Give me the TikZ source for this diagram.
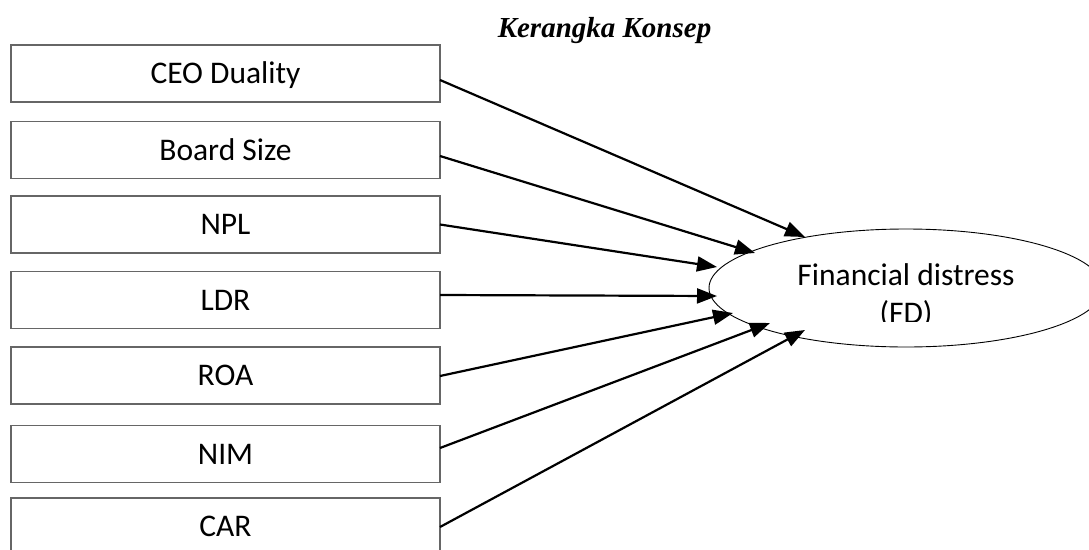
\documentclass[tikz,border=0pt]{standalone}
\usepackage{fontspec}
\setmainfont{Carlito}
\newfontfamily\titlefont{Liberation Serif}
\usetikzlibrary{calc,arrows.meta,shapes.geometric}
\tikzset{
  varbox/.style={draw=black!60, line width=1.3pt, fill=white, minimum width=429pt, minimum height=57pt, inner sep=0pt, outer sep=0pt, text height=20pt, text depth=0pt, font=\fontsize{31.5}{38}\selectfont},
  conn/.style={line width=2.2pt, -{Triangle[length=20pt,width=15pt]}},
  fdtext/.style={font=\fontsize{31.5}{38}\selectfont, inner sep=0pt, anchor=base}
}
\begin{document}
\begin{tikzpicture}[x=1pt,y=-1pt]
\useasboundingbox (0,0) rectangle (1089,549);
\clip (0,0) rectangle (1089,549);
\node[font=\titlefont\bfseries\itshape\fontsize{29}{34}\selectfont, anchor=base, inner sep=0pt] (title) at (604.5,37) {Kerangka Konsep};
\node[varbox] (ceo) at (225.5,73.5) {CEO Duality};
\node[varbox] (bs) at (225.5,150) {Board Size};
\node[varbox] (npl) at (225.5,224.5) {NPL};
\node[varbox] (ldr) at (225.5,300) {LDR};
\node[varbox] (roa) at (225.5,375.5) {ROA};
\node[varbox] (nim) at (225.5,454) {NIM};
\node[varbox] (car) at (225.5,526.5) {CAR};
\node[ellipse, draw, line width=0.9pt, minimum width=394pt, minimum height=118pt, inner sep=0pt, outer sep=0pt] (fd) at (906,288) {};
\begin{scope}
\clip (700,240) rectangle (1089,321.5);
\node[fdtext] (fd1) at (906,285) {Financial distress};
\node[fdtext] (fd2) at (906,323.5) {(FD)};
\end{scope}
\draw[conn] ($(ceo.east)+(0,6.5)$) -- ($(fd.center)+(-101,-51)$);
\draw[conn] ($(bs.east)+(0,6)$) -- ($(fd.center)+(-151,-35)$);
\draw[conn] ($(npl.east)+(0,0)$) -- ($(fd.center)+(-189,-21)$);
\draw[conn] ($(ldr.east)+(0,-5)$) -- ($(fd.center)+(-189,8)$);
\draw[conn] ($(roa.east)+(0,0.5)$) -- ($(fd.center)+(-173,25)$);
\draw[conn] ($(nim.east)+(0,-6)$) -- ($(fd.center)+(-136,35)$);
\draw[conn] ($(car.east)+(0,0.5)$) -- ($(fd.center)+(-101,42)$);
\end{tikzpicture}
\end{document}
